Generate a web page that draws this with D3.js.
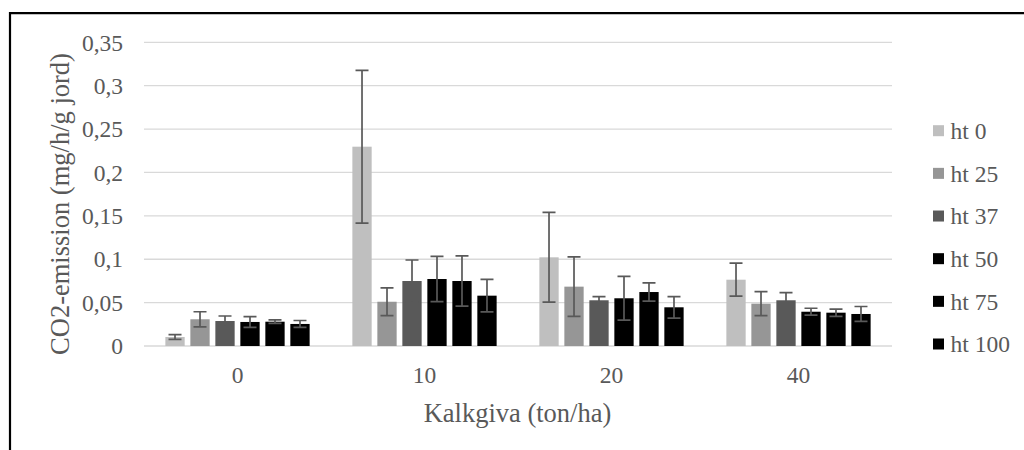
<!DOCTYPE html>
<html><head><meta charset="utf-8">
<script src="https://cdn.jsdelivr.net/npm/d3@7"></script>
<style>body{margin:0;background:#fff;} svg{display:block;}</style>
</head><body>
<svg id="c" width="1024" height="450"></svg>
<script>
const categories = ["0", "10", "20", "40"];
const seriesNames = ["ht 0", "ht 25", "ht 37", "ht 50", "ht 75", "ht 100"];
const seriesColors = ["#bfbfbf", "#969696", "#595959", "#000000", "#000000", "#000000"];
// values per series, in category order
const ht0   = [0.0104, 0.2297, 0.1022, 0.0764];
const ht25  = [0.0308, 0.0510, 0.0684, 0.0488];
const ht37  = [0.0288, 0.0749, 0.0527, 0.0527];
const ht50  = [0.0277, 0.0772, 0.0550, 0.0395];
const ht75  = [0.0280, 0.0749, 0.0622, 0.0384];
const ht100 = [0.0254, 0.0580, 0.0446, 0.0369];
// error (±) per series
const err0   = [0.0027, 0.0880, 0.0517, 0.0190];
const err25  = [0.0087, 0.0160, 0.0342, 0.0138];
const err37  = [0.0058, 0.0242, 0.0041, 0.0087];
const err50  = [0.0062, 0.0260, 0.0252, 0.0040];
const err75  = [0.0020, 0.0290, 0.0105, 0.0042];
const err100 = [0.0040, 0.0187, 0.0124, 0.0086];
const yTicks = [0, 0.05, 0.1, 0.15, 0.2, 0.25, 0.3, 0.35];
const yTitle = "CO2-emission (mg/h/g jord)";
const xTitle = "Kalkgiva (ton/ha)";

const values = [ht0, ht25, ht37, ht50, ht75, ht100];
const errors = [err0, err25, err37, err50, err75, err100];

const svg = d3.select("#c");
const font = "Liberation Serif, Times New Roman, serif";
const textColor = "#595959";
const tickSize = 23.5, titleSize = 26.5;

// frame
svg.append("path").attr("d", "M10,460 L10,13.2 L1030,13.2")
  .attr("fill", "none").attr("stroke", "#000").attr("stroke-width", 2.2);

const plotL = 144, plotR = 892, plotT = 42.3, plotB = 346;
const y = d3.scaleLinear().domain([0, 0.35]).range([plotB, plotT]);
const x0 = d3.scaleBand().domain(categories).range([plotL, plotR]).paddingInner(0.198).paddingOuter(0.099);
const x1 = d3.scaleBand().domain(seriesNames).range([0, x0.bandwidth()]).paddingInner(0.228).paddingOuter(0.114);

// gridlines
svg.append("g").selectAll("line").data(yTicks).join("line")
  .attr("x1", plotL).attr("x2", plotR)
  .attr("y1", d => y(d)).attr("y2", d => y(d))
  .attr("stroke", "#d9d9d9").attr("stroke-width", 1.3);

// y tick labels
const fmt = d => String(+d.toFixed(2)).replace(".", ",");
svg.append("g").selectAll("text").data(yTicks).join("text")
  .attr("x", 123).attr("y", d => y(d)).attr("dy", "0.35em")
  .attr("text-anchor", "end").attr("font-family", font).attr("font-size", tickSize)
  .attr("fill", textColor).text(fmt);

// x tick labels
svg.append("g").selectAll("text").data(categories).join("text")
  .attr("x", d => x0(d) + x0.bandwidth() / 2).attr("y", 375).attr("dy", "0.35em")
  .attr("text-anchor", "middle").attr("font-family", font).attr("font-size", tickSize)
  .attr("fill", textColor).text(d => d);

// bars
const groups = svg.append("g").selectAll("g").data(seriesNames).join("g");
groups.each(function(s, si) {
  const g = d3.select(this);
  g.selectAll("rect").data(categories).join("rect")
    .attr("x", c => x0(c) + x1(s))
    .attr("width", x1.bandwidth())
    .attr("y", (c, ci) => y(values[si][ci]))
    .attr("height", (c, ci) => y(0) - y(values[si][ci]))
    .attr("fill", seriesColors[si]);
});

// error bars
groups.each(function(s, si) {
  const g = d3.select(this);
  categories.forEach((c, ci) => {
    const cx = x0(c) + x1(s) + x1.bandwidth() / 2;
    const v = values[si][ci], e = errors[si][ci];
    const top = y(v + e), bot = y(v - e);
    const cw = 6.5;
    const p = `M${cx},${top}L${cx},${bot}M${cx - cw},${top}L${cx + cw},${top}M${cx - cw},${bot}L${cx + cw},${bot}`;
    g.append("path").attr("d", p).attr("fill", "none").attr("stroke", "#595959").attr("stroke-width", 1.7);
  });
});

// axis titles
svg.append("text").attr("transform", `translate(60,204) rotate(-90)`)
  .attr("text-anchor", "middle").attr("dy", "0.35em").attr("font-family", font).attr("font-size", titleSize)
  .attr("fill", textColor).text(yTitle);
svg.append("text").attr("x", 517.5).attr("y", 413).attr("dy", "0.35em")
  .attr("text-anchor", "middle").attr("font-family", font).attr("font-size", titleSize)
  .attr("fill", textColor).text(xTitle);

// legend
const legendY = d3.scalePoint().domain(seriesNames).range([130.7, 344]);
const lg = svg.append("g").selectAll("g").data(seriesNames).join("g")
  .attr("transform", d => `translate(933,${legendY(d)})`);
lg.append("rect").attr("x", 0).attr("y", -5.5).attr("width", 11).attr("height", 11)
  .attr("fill", (d, i) => seriesColors[i]);
lg.append("text").attr("x", 17.5).attr("y", 0).attr("dy", "0.35em")
  .attr("font-family", font).attr("font-size", tickSize).attr("fill", textColor).text(d => d);
</script>
</body></html>
